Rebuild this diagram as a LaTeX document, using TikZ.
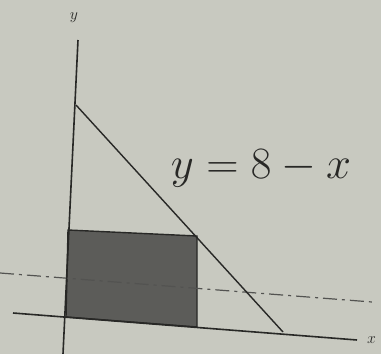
\documentclass[tikz,border=0pt]{standalone}
\usetikzlibrary{calc}
\definecolor{paper}{RGB}{200,201,192}
\definecolor{ink}{RGB}{40,40,38}
\definecolor{shade}{RGB}{92,92,89}
\tikzset{
  axis/.style={draw=ink, line width=1.6pt},
  edge/.style={draw=ink, line width=1.4pt},
  dashdot/.style={draw=ink!80, line width=1.2pt, dash pattern=on 14pt off 5pt on 3pt off 5pt},
  region/.style={fill=shade, draw=ink, line width=1.4pt},
  lbl/.style={text=ink, inner sep=0pt}
}
\begin{document}
\begin{tikzpicture}[x=1pt,y=-1pt]
\fill[paper] (0,0) rectangle (381,354);
\useasboundingbox (0,0) rectangle (381,354);
% coordinates
\coordinate (ytop) at (78,40);
\coordinate (ybot) at (63,354);
\coordinate (xl) at (13,313);
\coordinate (xr) at (357,340);
\coordinate (apex) at (76,105);
\coordinate (foot) at (283,332);
\coordinate (r1) at (68,230);
\coordinate (r2) at (197,236);
\coordinate (r3) at (197,327);
\coordinate (r4) at (66,317);
\coordinate (dl) at (0,273);
\coordinate (dr) at (372,302);
% shaded rectangle
\path[region] (r1) -- (r2) -- (r3) -- (r4) -- cycle;
% dash-dot line
\draw[dashdot] (dl) -- (dr);
% axes
\draw[axis] (ytop) -- (ybot);
\draw[axis] (xl) -- (xr);
% hypotenuse
\draw[edge] (apex) -- (foot);
% labels
\node[lbl, font=\Large, scale=1.1] (ylab) at (74,18) {$y$};
\node[lbl, font=\Large, scale=1.1, anchor=west] (xlab) at (367,340) {$x$};
\node[lbl, font=\Huge, scale=1.8] (eq) at (261,168) {$y = 8 - x$};
\end{tikzpicture}
\end{document}
